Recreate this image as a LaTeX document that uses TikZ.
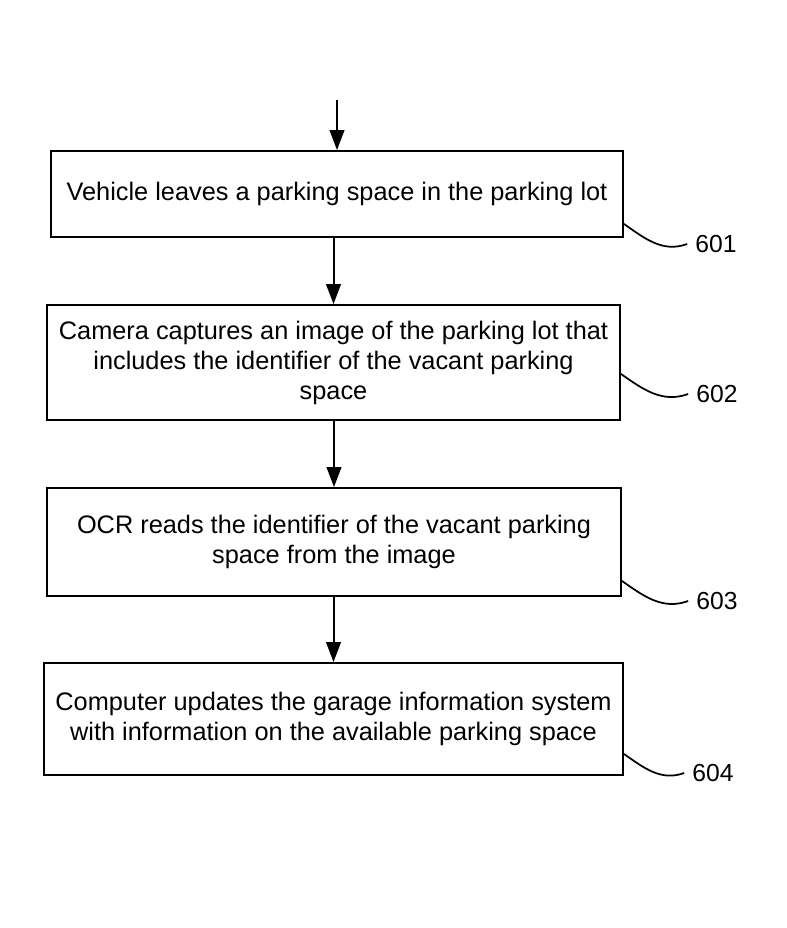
\documentclass[tikz,border=0pt]{standalone}
\usepackage{fontspec}
\setmainfont{Liberation Sans}
\usepackage{tikz}
\usetikzlibrary{positioning}
\usetikzlibrary{arrows.meta}
\usetikzlibrary{calc}
\tikzstyle{stepbox}=[draw,line width=1.4pt,align=center,inner sep=0pt,font=\fontsize{19}{22.5}\selectfont]
\tikzstyle{refnum}=[font=\fontsize{18.5}{22}\selectfont,inner ysep=1pt,inner xsep=6pt]
\tikzstyle{edge} = [draw,line width=1.5pt,-{Triangle[length=15pt,width=11pt]}]
\tikzstyle{leader} = [draw,line width=1.3pt]

\begin{document}
\begin{tikzpicture}[x=0.75pt,y=-0.75pt]
    \useasboundingbox (0,0) rectangle (787,928);

    % process steps
    \node[stepbox,minimum width=572*0.75pt,minimum height=86*0.75pt] (s601) at (337,194)
        {Vehicle leaves a parking space in the parking lot};
    \node[stepbox,minimum width=573*0.75pt,minimum height=115*0.75pt] (s602) at (333.5,362.5)
        {Camera captures an image of the parking lot that\\ includes the identifier of the vacant parking\\ space};
    \node[stepbox,minimum width=574*0.75pt,minimum height=108*0.75pt] (s603) at (334,542)
        {OCR reads the identifier of the vacant parking\\ space from the image};
    \node[stepbox,minimum width=579*0.75pt,minimum height=112*0.75pt] (s604) at (333.5,719)
        {Computer updates the garage information system\\ with information on the available parking space};

    % reference numerals
    \foreach \pos/ \name in {{(716,244)/601},{(717,394)/602},{(717,601)/603},{(713,773)/604}}
        \node[refnum] (l\name) at \pos {\name};

    % flow arrows
    \coordinate (start) at (337,100);
    \path[edge] (start) -- (s601.north);
    \foreach \source/ \dest in {s601/s602, s602/s603, s603/s604}
        \path[edge] (\source.south -| \dest.north) -- (\dest.north);

    % leader lines to the numerals
    \foreach \name/ \up in {601/14, 602/47, 603/16, 604/22}
        \path[leader] ($(s\name.south east)+(0,-\up)$) to [out=-35, in=200] (l\name.west);

\end{tikzpicture}
\end{document}
